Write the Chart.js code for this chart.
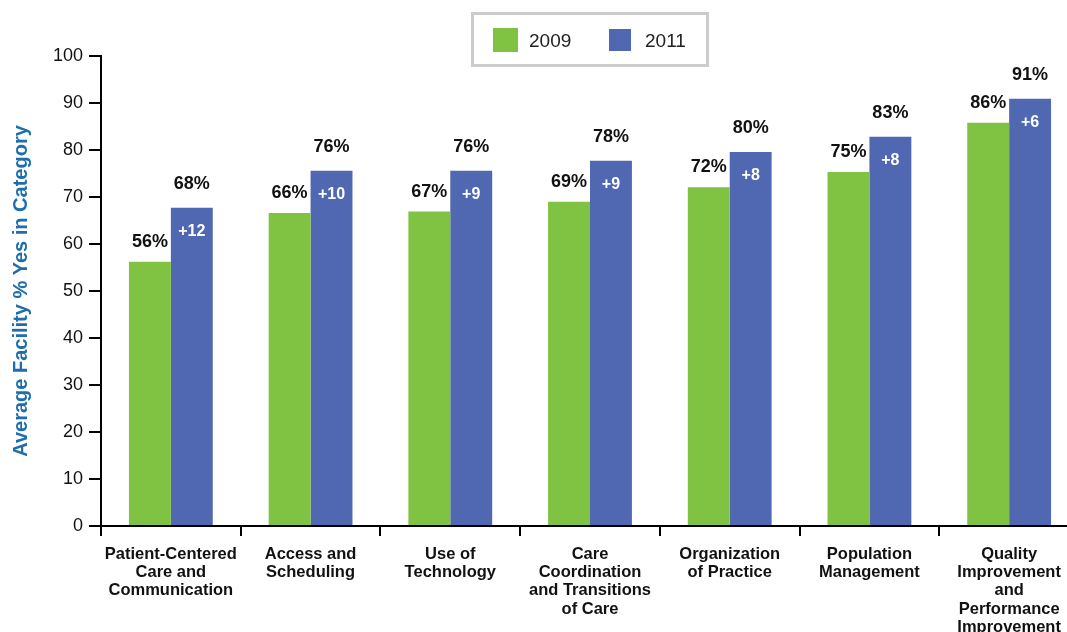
<!DOCTYPE html>
<html>
<head>
<meta charset="utf-8">
<script src="https://cdn.jsdelivr.net/npm/chart.js@4/dist/chart.umd.min.js"></script>
<style>
    html, body { margin: 0; padding: 0; background: #fff; overflow: hidden; }
    canvas { display: block; }
</style>
</head>
<body>
<canvas id="chart" width="1080" height="632"></canvas>
<script>
const categories = [
    ['Patient-Centered', 'Care and', 'Communication'],
    ['Access and', 'Scheduling'],
    ['Use of', 'Technology'],
    ['Care', 'Coordination', 'and Transitions', 'of Care'],
    ['Organization', 'of Practice'],
    ['Population', 'Management'],
    ['Quality', 'Improvement', 'and', 'Performance', 'Improvement']
];
const seriesNames = ['2009', '2011'];
const values2009 = [56.2, 66.6, 66.9, 69.0, 72.1, 75.3, 85.8];
const values2011 = [67.7, 75.6, 75.6, 77.7, 79.6, 82.8, 90.9];
const pctLabels2009 = [56, 66, 67, 69, 72, 75, 86];
const pctLabels2011 = [68, 76, 76, 78, 80, 83, 91];
const changeLabels = ['+12', '+10', '+9', '+9', '+8', '+8', '+6'];
const yTicks = [0, 10, 20, 30, 40, 50, 60, 70, 80, 90, 100];

const GREEN = '#80c242';
const BLUE = '#5068b1';
const FONT = '"Liberation Sans", Arial, Helvetica, sans-serif';

// percent labels above bars, change inside the 2011 bar
const valueLabels = {
    id: 'valueLabels',
    afterDatasetsDraw(chart) {
        const ctx = chart.ctx;
        ctx.save();
        ctx.textAlign = 'center';
        ctx.textBaseline = 'middle';
        ctx.font = 'bold 18px ' + FONT;
        ctx.fillStyle = '#111';
        chart.getDatasetMeta(0).data.forEach((bar, i) => {
            ctx.fillText(pctLabels2009[i] + '%', bar.x, bar.y - 20);
        });
        chart.getDatasetMeta(1).data.forEach((bar, i) => {
            ctx.fillText(pctLabels2011[i] + '%', bar.x, bar.y - 24);
        });
        ctx.font = 'bold 16px ' + FONT;
        ctx.fillStyle = '#fff';
        chart.getDatasetMeta(1).data.forEach((bar, i) => {
            ctx.fillText(changeLabels[i], bar.x, bar.y + 24);
        });
        ctx.restore();
    }
};

// boxed legend at the top
const boxLegend = {
    id: 'boxLegend',
    afterDraw(chart) {
        const ctx = chart.ctx;
        ctx.save();
        ctx.strokeStyle = '#cccccc';
        ctx.lineWidth = 3;
        ctx.strokeRect(472.5, 13.5, 235, 52);
        ctx.font = '19px ' + FONT;
        ctx.textBaseline = 'middle';
        const items = [
            { sx: 493, sy: 28, sw: 25, sh: 24, tx: 529 },
            { sx: 609, sy: 29, sw: 22, sh: 22, tx: 645 }
        ];
        chart.data.datasets.forEach((ds, i) => {
            const it = items[i];
            ctx.fillStyle = ds.backgroundColor;
            ctx.fillRect(it.sx, it.sy, it.sw, it.sh);
            ctx.fillStyle = '#222';
            ctx.fillText(ds.label, it.tx, 42);
        });
        ctx.restore();
    }
};

new Chart(document.getElementById('chart').getContext('2d'), {
    type: 'bar',
    data: {
        labels: categories,
        datasets: [
            { label: seriesNames[0], data: values2009, backgroundColor: GREEN, borderWidth: 0 },
            { label: seriesNames[1], data: values2011, backgroundColor: BLUE, borderWidth: 0 }
        ]
    },
    options: {
        responsive: false,
        animation: false,
        layout: { padding: { top: 56, left: 0, right: 1, bottom: 0 } },
        datasets: { bar: { categoryPercentage: 0.6, barPercentage: 1.0 } },
        plugins: {
            legend: { display: false },
            tooltip: { enabled: false }
        },
        scales: {
            x: {
                afterFit(scale) { scale.height = 106; },
                grid: {
                    display: true,
                    drawOnChartArea: false,
                    drawTicks: true,
                    tickLength: 10,
                    color: '#000',
                    lineWidth: 2,
                    offset: true
                },
                border: { display: true, color: '#000', width: 2 },
                ticks: {
                    color: '#111',
                    padding: 9,
                    maxRotation: 0,
                    autoSkip: false,
                    font: { family: FONT, size: 16.5, weight: 'bold', lineHeight: 1.11 }
                }
            },
            y: {
                min: 0,
                max: 100,
                afterFit(scale) { scale.width = 101; },
                afterBuildTicks(scale) { scale.ticks = yTicks.map(v => ({ value: v })); },
                grid: {
                    display: true,
                    drawOnChartArea: false,
                    drawTicks: true,
                    tickLength: 12,
                    color: '#000',
                    lineWidth: 2
                },
                border: { display: true, color: '#000', width: 2 },
                ticks: {
                    color: '#111',
                    padding: 6,
                    font: { family: FONT, size: 18 }
                },
                title: {
                    display: true,
                    text: 'Average Facility % Yes in Category',
                    color: '#1f6eab',
                    padding: { top: 9, bottom: 0 },
                    font: { family: FONT, size: 20, weight: 'bold' }
                }
            }
        }
    },
    plugins: [valueLabels, boxLegend]
});
</script>
</body>
</html>
